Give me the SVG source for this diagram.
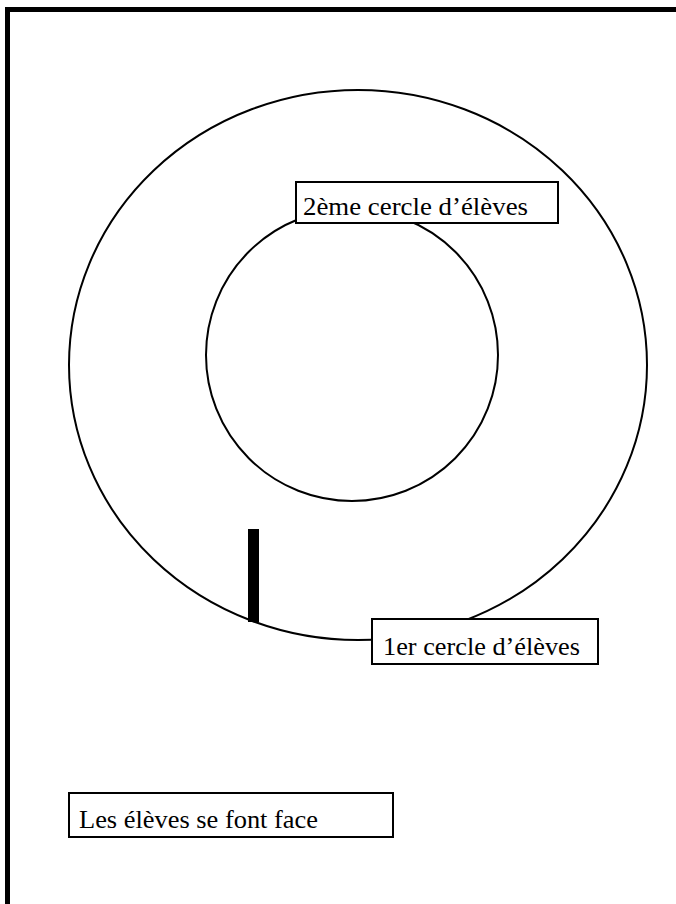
<svg xmlns="http://www.w3.org/2000/svg" width="676" height="904" viewBox="0 0 676 904">
<style>
.ring{fill:none;stroke:#000;stroke-width:2}
.box{fill:#fff;stroke:#000;stroke-width:2}
.lbl{font-family:"Liberation Serif","Times New Roman",serif;font-size:26px;fill:#000}
</style>
<rect x="0" y="0" width="676" height="904" fill="#fff"/>
<rect id="frame" x="7.5" y="9.5" width="690" height="920" fill="none" stroke="#000" stroke-width="5"/>
<g id="outer-circle"><ellipse class="ring" cx="358" cy="365" rx="289" ry="275"/></g>
<g id="inner-circle"><circle class="ring" cx="352" cy="355" r="146"/></g>
<g id="marker-bar"><rect x="248" y="529" width="11" height="93" fill="#000"/></g>
<g id="label-2eme"><rect class="box" x="296" y="182" width="262" height="41"/><text class="lbl" x="303" y="215" textLength="225" lengthAdjust="spacingAndGlyphs">2ème cercle d’élèves</text></g>
<g id="label-1er"><rect class="box" x="372" y="619" width="226" height="45"/><text class="lbl" x="383" y="655" textLength="197" lengthAdjust="spacingAndGlyphs">1er cercle d’élèves</text></g>
<g id="label-face"><rect class="box" x="69" y="793" width="324" height="44"/><text class="lbl" x="79" y="828" textLength="239" lengthAdjust="spacingAndGlyphs">Les élèves se font face</text></g>
<g id="connectors"></g>
</svg>
